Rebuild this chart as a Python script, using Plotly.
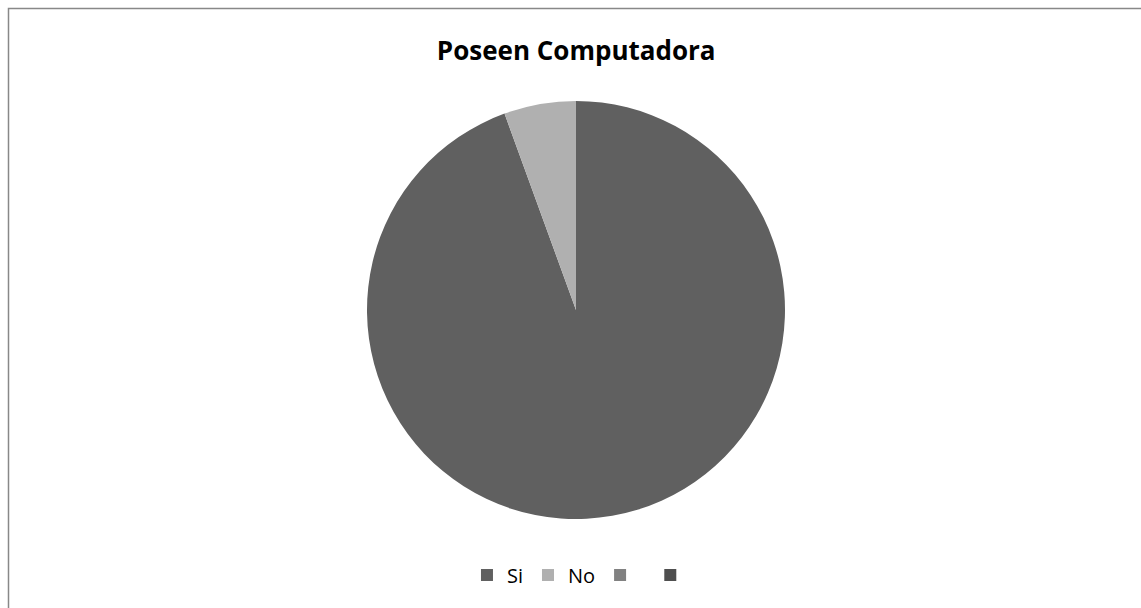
import plotly.graph_objects as go

labels = ["Si", "No", " ", "  "]
values = [17, 1, 0, 0]
colors = ["#606060", "#b0b0b0", "#818181", "#4f4f4f"]
title_text = "Poseen Computadora"

W, H = 1141, 608

fig = go.Figure()
fig.add_trace(go.Pie(
    labels=labels,
    values=values,
    marker=dict(colors=colors, line=dict(width=0)),
    sort=False,
    direction="clockwise",
    rotation=0,
    textinfo="none",
    hoverinfo="label+value+percent",
    domain=dict(x=[366 / W, 786 / W], y=[89 / H, 507 / H]),
))

fig.update_layout(
    width=W, height=H,
    margin=dict(l=0, r=0, t=0, b=0),
    paper_bgcolor="white",
    plot_bgcolor="white",
    title=dict(text="<b>" + title_text + "</b>", x=0.505, xanchor="center",
               y=1 - 51 / H, yanchor="middle",
               font=dict(family="Open Sans, Lato, sans-serif", size=26, color="#000000")),
    legend=dict(orientation="h", x=0.514, xanchor="center", y=1 - 575 / H, yanchor="middle",
                font=dict(family="Open Sans, Lato, sans-serif", size=20, color="#000000"),
                itemclick=False, itemdoubleclick=False, traceorder="normal"),
    shapes=[dict(type="rect", xref="paper", yref="paper", x0=8.5 / W, x1=1.05, y0=-0.05, y1=1 - 8.5 / H,
                 line=dict(color="#888888", width=1.5), fillcolor="rgba(0,0,0,0)")],
)

fig.write_html("out.html")
